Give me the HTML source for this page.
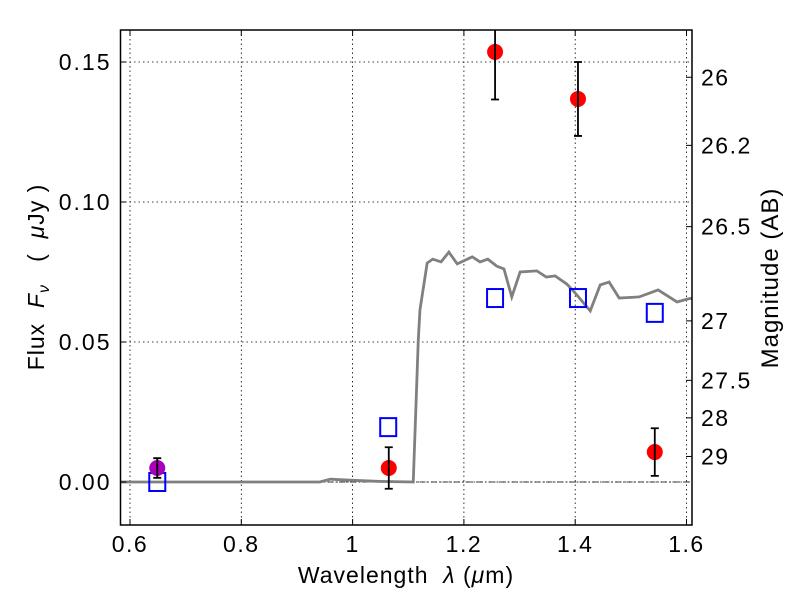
<!DOCTYPE html>
<html><head><meta charset="utf-8"><style>
body{margin:0;background:#fff}
svg{font-family:"Liberation Sans","DejaVu Sans",sans-serif}
text{white-space:pre}
</style></head><body>
<svg id="c" width="800" height="600"></svg>
<script>
const specX=[0.58,0.941,0.96,1.0,1.05,1.109,1.118,1.121,1.134,1.144,1.159,1.173,1.188,1.215,1.229,1.243,1.259,1.272,1.286,1.301,1.331,1.348,1.364,1.385,1.400,1.427,1.445,1.461,1.479,1.515,1.549,1.583,1.603,1.62];
const specY=[0,0,0.0010,0.0006,0.0002,0.0,0.0505,0.0614,0.0782,0.0796,0.0786,0.0821,0.0779,0.0804,0.0786,0.0796,0.0771,0.0761,0.0661,0.075,0.0754,0.0732,0.0736,0.0707,0.0675,0.0611,0.0704,0.0714,0.0657,0.0661,0.0686,0.0643,0.0654,0.066];
const obsX=[1.065,1.256,1.405,1.543];
const obsY=[0.005,0.1536,0.1368,0.0107];
const obsErr=[0.0074,0.0170,0.0132,0.0085];
const purpX=[0.649],purpY=[0.005],purpErr=[0.0035];
const modX=[0.649,1.064,1.256,1.405,1.543];
const modY=[0.0,0.0196,0.0657,0.0657,0.0604];
const xTicks=[0.6,0.8,1.0,1.2,1.4,1.6];
const xTickLabels=["0.6","0.8","1","1.2","1.4","1.6"];
const yTicks=[0,0.05,0.10,0.15];
const yTickLabels=["0.00","0.05","0.10","0.15"];
const magTicks=[26,26.2,26.5,27,27.5,28,29];
const magLabels=["26","26.2","26.5","27","27.5","28","29"];

const L=120.5,R=692,T=30,B=525;
const X=v=>130+(v-0.6)*556.5;
const Y=v=>482-v*2800;
const svg=document.getElementById('c');
const NS='http://www.w3.org/2000/svg';
function mk(t,a,p){const e=document.createElementNS(NS,t);for(const k in a)e.setAttribute(k,a[k]);(p||svg).appendChild(e);return e;}
const clip=mk('clipPath',{id:'cp'});mk('rect',{x:L,y:T,width:R-L,height:B-T},clip);
const g=mk('g',{'clip-path':'url(#cp)'});


xTicks.forEach(v=>{const l=mk('line',{x1:X(v),x2:X(v),y1:T,y2:B,stroke:'#000','stroke-width':0.8,'stroke-dasharray':'1.5,3'},g);

});
yTicks.forEach(v=>{const l=mk('line',{x1:L,x2:R,y1:Y(v),y2:Y(v),stroke:'#000','stroke-width':0.8,'stroke-dasharray':'1.5,3'},g);

});
const zl=mk('line',{x1:L,x2:R,y1:Y(0),y2:Y(0),stroke:'#000','stroke-width':0.8,'stroke-dasharray':'6,2,1.5,2'},g);


const sp=mk('polyline',{points:specX.map((x,i)=>X(x)+','+Y(specY[i])).join(' '),fill:'none',stroke:'#808080','stroke-width':2.8},g);


modX.forEach((x,i)=>{const r=mk('rect',{x:X(x)-8,y:Y(modY[i])-9,width:16,height:18,fill:'none',stroke:'#0000ff','stroke-width':2},g);

});
function pt(x,y,e,col,name){const cx=X(x),cy=Y(y);
const c=mk('circle',{cx:cx,cy:cy,r:8,fill:col},g);


const eb=mk('path',{d:`M${cx},${Y(y+e)}V${Y(y-e)}M${cx-4},${Y(y+e)}H${cx+4}M${cx-4},${Y(y-e)}H${cx+4}`,stroke:'#000','stroke-width':1.8,fill:'none'},g);

}
purpX.forEach((x,i)=>pt(x,purpY[i],purpErr[i],'#aa00bb','purple-data-point'));
obsX.forEach((x,i)=>pt(x,obsY[i],obsErr[i],'#ff0000','observed-data-point'));
const fr=mk('rect',{x:L,y:T,width:R-L,height:B-T,fill:'none',stroke:'#000','stroke-width':1.5});


xTicks.forEach((v,i)=>{mk('line',{x1:X(v),x2:X(v),y1:B,y2:B-6,stroke:'#000'});mk('line',{x1:X(v),x2:X(v),y1:T,y2:T+6,stroke:'#000'});
const t=mk('text',{x:X(v),y:B+27,'font-size':23,'text-anchor':'middle','letter-spacing':1.5});t.textContent=xTickLabels[i];

});
yTicks.forEach((v,i)=>{mk('line',{x1:L,x2:L+6,y1:Y(v),y2:Y(v),stroke:'#000'});
const t=mk('text',{x:L-9,y:Y(v)+8,'font-size':23,'text-anchor':'end','letter-spacing':2});t.textContent=yTickLabels[i];

});
magTicks.forEach((m,i)=>{const y=Y(Math.pow(10,-0.4*(m-23.9)));
mk('line',{x1:R-6,x2:R,y1:y,y2:y,stroke:'#000'});
const t=mk('text',{x:R+9,y:y+8,'font-size':23,'letter-spacing':1.5});t.textContent=magLabels[i];

});
const xt=mk('text',{x:406,y:583,'font-size':23,'text-anchor':'middle','letter-spacing':1});
xt.innerHTML='Wavelength  <tspan font-style="italic">λ</tspan> (<tspan font-style="italic">μ</tspan>m)';


const yt=mk('text',{x:0,y:0,'font-size':23,'text-anchor':'middle','letter-spacing':1,transform:'translate(44,277) rotate(-90)'});
yt.innerHTML='Flux  <tspan font-style="italic">F</tspan><tspan font-style="italic" font-size="16" dy="5">ν</tspan><tspan dy="-5">   (  </tspan><tspan font-style="italic">μ</tspan>Jy )';


const rt=mk('text',{x:0,y:0,'font-size':24,'text-anchor':'middle','letter-spacing':1,transform:'translate(778,278) rotate(-90)'});
rt.textContent='Magnitude (AB)';


</script>
</body></html>
